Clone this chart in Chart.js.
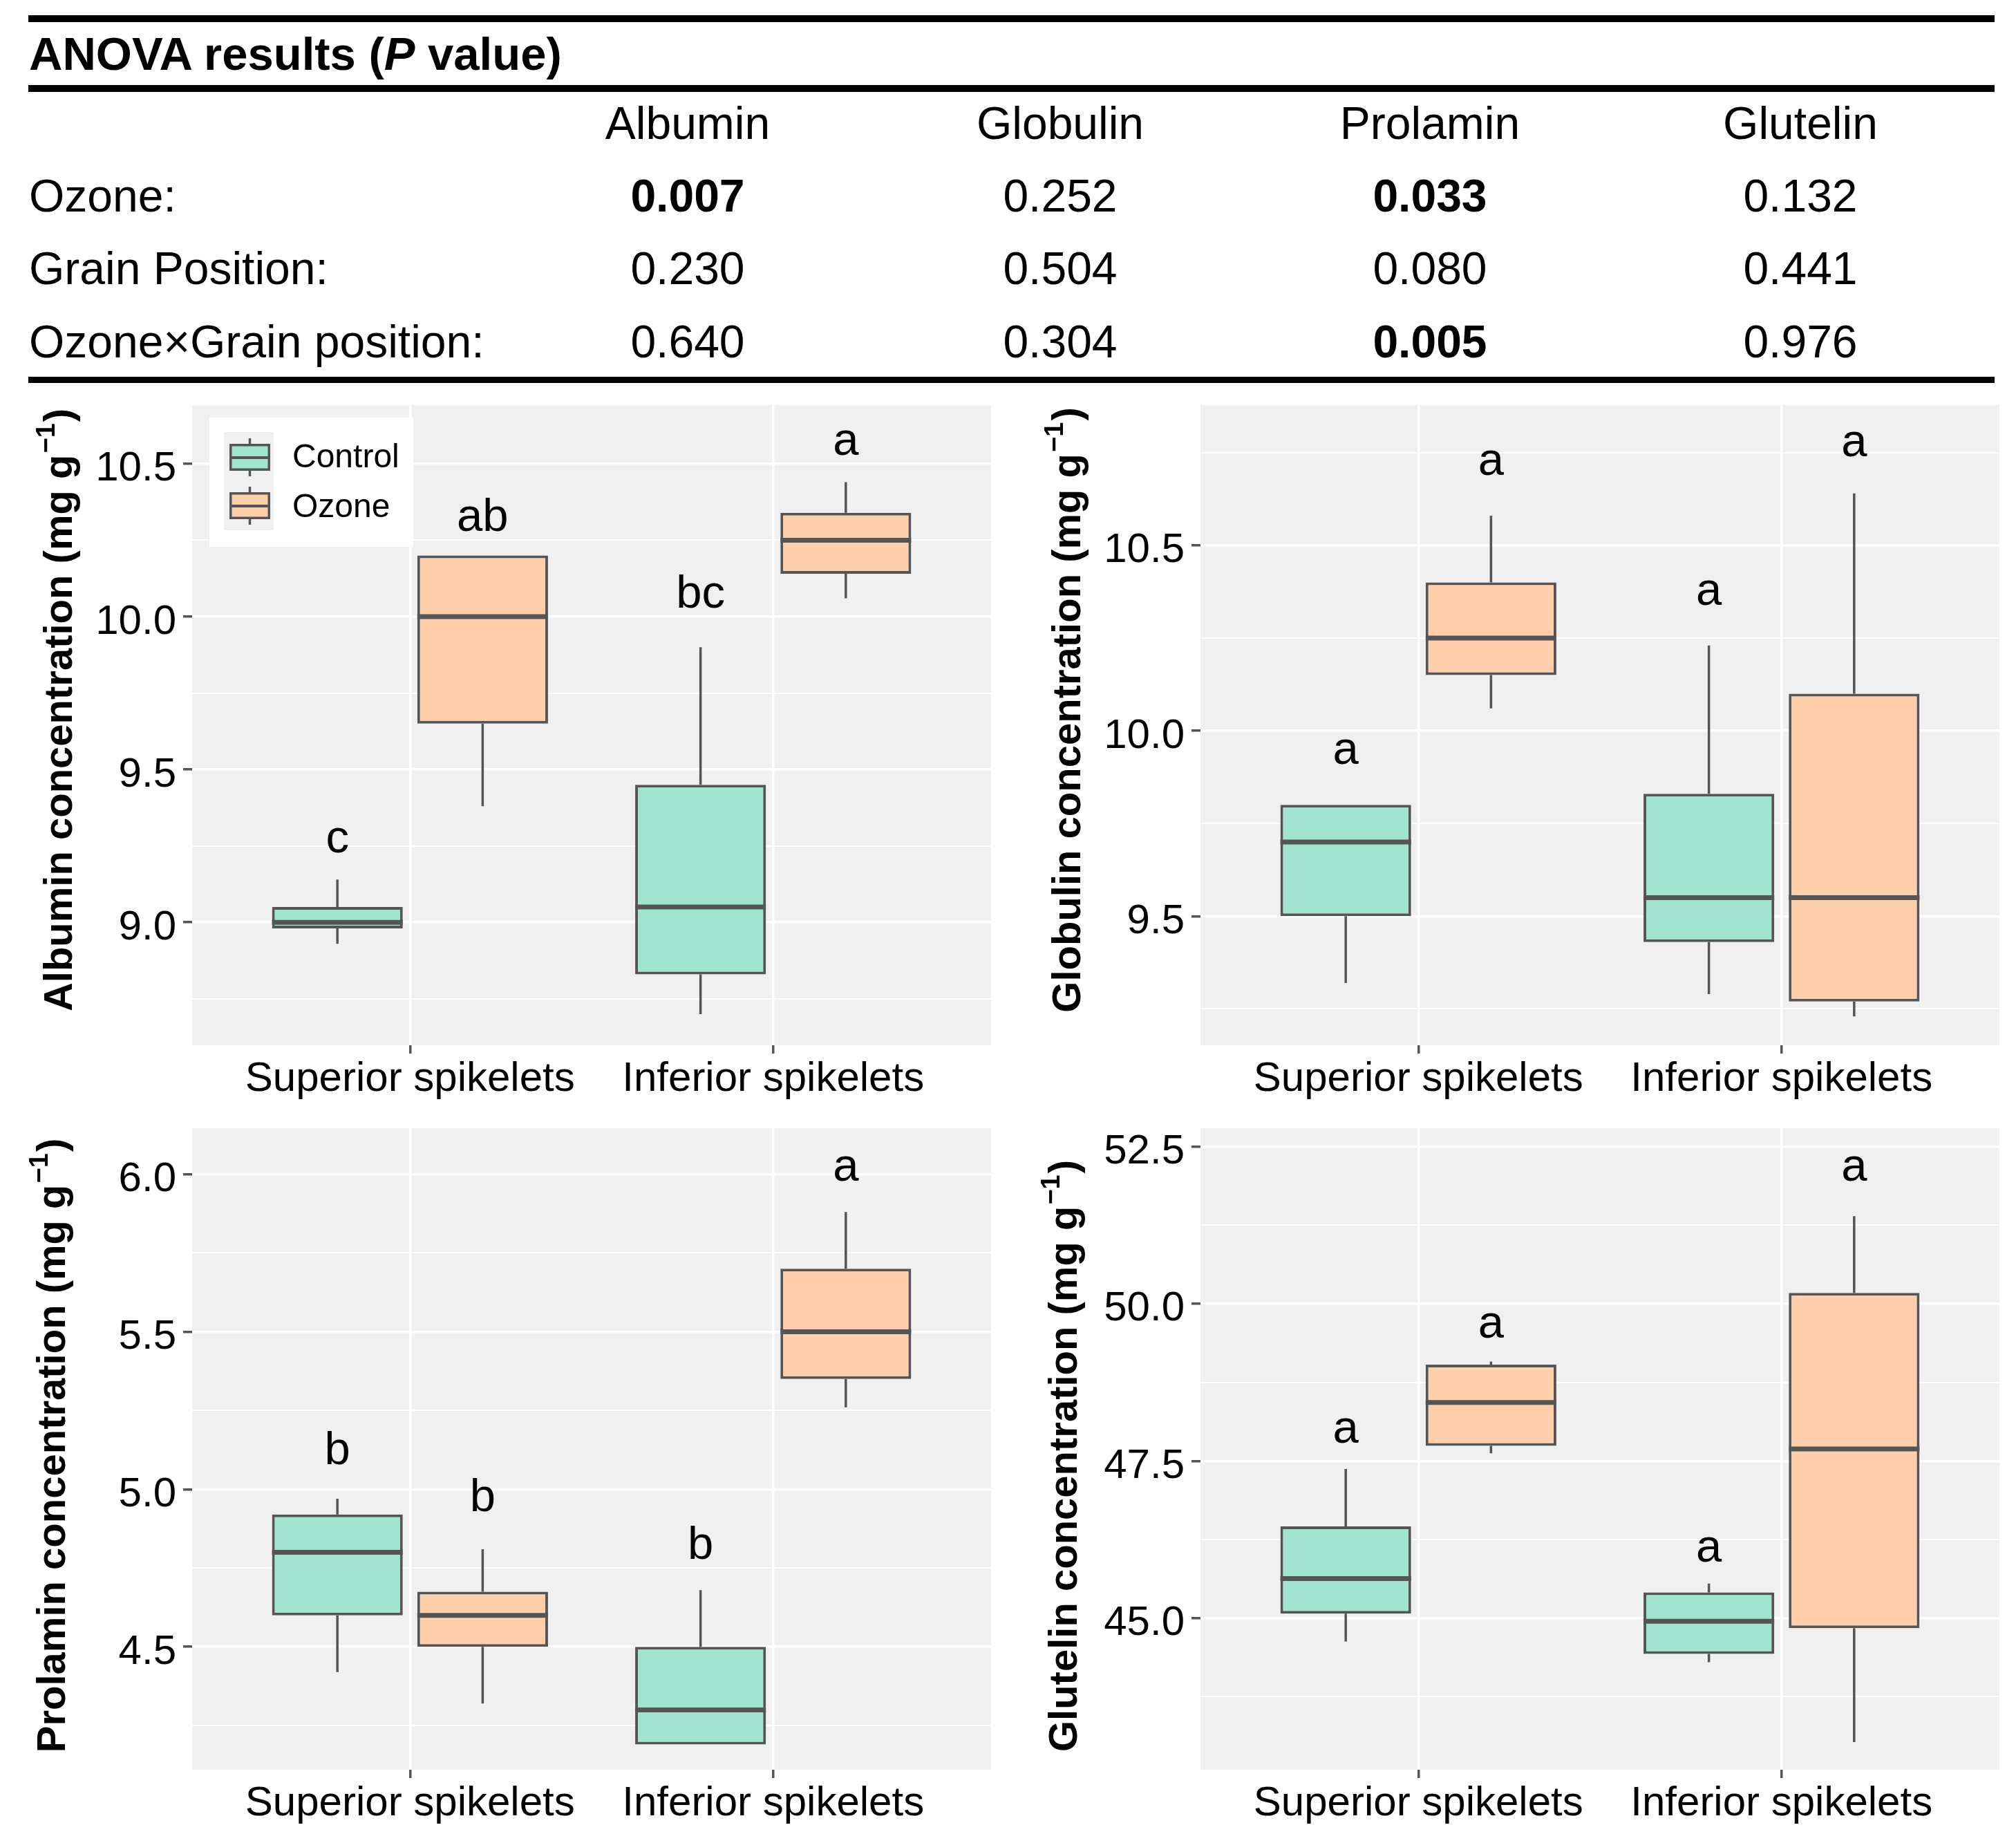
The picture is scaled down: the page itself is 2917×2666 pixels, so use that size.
<!DOCTYPE html>
<html><head><meta charset="utf-8">
<script src="https://cdn.jsdelivr.net/npm/chart.js@4.4.1/dist/chart.umd.min.js"></script>
<style>
html,body{margin:0;padding:0;background:#fff;}
body{width:2917px;height:2666px;position:relative;overflow:hidden;font-family:"Liberation Sans",Arial,sans-serif;color:#000;}
.rule{position:absolute;left:41px;width:2845px;background:#000;}
.t{position:absolute;white-space:nowrap;line-height:1;font-size:66px;}
.c{transform:translateX(-50%);}
canvas{position:absolute;}
</style></head><body>
<div id="table"></div>
<canvas id="c1" width="1460" height="1060"></canvas>
<canvas id="c2" width="1460" height="1060"></canvas>
<canvas id="c3" width="1460" height="1060"></canvas>
<canvas id="c4" width="1460" height="1060"></canvas>
<script>
// ---------------- DATA ----------------
const categories = ['Superior spikelets', 'Inferior spikelets'];
const treatments = ['Control', 'Ozone'];

const anovaTitle = 'ANOVA results';
const anovaColumns = ['Albumin', 'Globulin', 'Prolamin', 'Glutelin'];
const anovaRowLabels = ['Ozone:', 'Grain Position:', 'Ozone\u00D7Grain position:'];
const anovaOzone = ['0.007', '0.252', '0.033', '0.132'];
const anovaGrain = ['0.230', '0.504', '0.080', '0.441'];
const anovaInteraction = ['0.640', '0.304', '0.005', '0.976'];
const alpha = 0.05;

// box statistics per category: [lower whisker, Q1, median, Q3, upper whisker]
const albuminControl = [[8.93, 8.98, 9.00, 9.05, 9.14], [8.70, 8.83, 9.05, 9.45, 9.90]];
const albuminOzone   = [[9.38, 9.65, 10.00, 10.20, 10.20], [10.06, 10.14, 10.25, 10.34, 10.44]];
const albuminLetters = [['c', 'bc'], ['ab', 'a']];
const albuminLetterY = [[9.23, 10.03], [10.28, 10.53]];
const albuminTicks = [9.0, 9.5, 10.0, 10.5];
const albuminMinor = [8.75, 9.25, 9.75, 10.25];
const albuminRange = [8.598, 10.692];

const globulinControl = [[9.32, 9.50, 9.70, 9.80, 9.80], [9.29, 9.43, 9.55, 9.83, 10.23]];
const globulinOzone   = [[10.06, 10.15, 10.25, 10.40, 10.58], [9.23, 9.27, 9.55, 10.10, 10.64]];
const globulinLetters = [['a', 'a'], ['a', 'a']];
const globulinLetterY = [[9.91, 10.34], [10.69, 10.74]];
const globulinTicks = [9.5, 10.0, 10.5];
const globulinMinor = [9.25, 9.75, 10.25, 10.75];
const globulinRange = [9.152, 10.878];

const prolaminControl = [[4.42, 4.60, 4.80, 4.92, 4.97], [4.19, 4.19, 4.30, 4.50, 4.68]];
const prolaminOzone   = [[4.32, 4.50, 4.60, 4.675, 4.81], [5.26, 5.35, 5.50, 5.70, 5.88]];
const prolaminLetters = [['b', 'b'], ['b', 'a']];
const prolaminLetterY = [[5.08, 4.78], [4.93, 5.98]];
const prolaminTicks = [4.5, 5.0, 5.5, 6.0];
const prolaminMinor = [4.25, 4.75, 5.25, 5.75];
const prolaminRange = [4.110, 6.146];

const glutelinControl = [[44.63, 45.07, 45.63, 46.46, 47.37], [44.30, 44.43, 44.95, 45.41, 45.55]];
const glutelinOzone   = [[47.62, 47.74, 48.43, 49.03, 49.08], [43.03, 44.84, 47.69, 50.17, 51.39]];
const glutelinLetters = [['a', 'a'], ['a', 'a']];
const glutelinLetterY = [[47.79, 45.90], [49.46, 51.96]];
const glutelinTicks = [45.0, 47.5, 50.0, 52.5];
const glutelinMinor = [43.75, 46.25, 48.75, 51.25];
const glutelinRange = [42.59, 52.79];

// ---------------- STYLE / LAYOUT ----------------
const FONT = '"Liberation Sans", Arial, sans-serif';
const FILL = ['#A1E4D0', '#FFCFAB'];
const EDGE = '#555555';
const PANEL_BG = '#F0F0F0';
const DODGE = [-0.2, 0.2];

const panels = [
  {id: 'c1', name: 'Albumin',  control: albuminControl,  ozone: albuminOzone,  letters: albuminLetters,  letterY: albuminLetterY,  ticks: albuminTicks,  minor: albuminMinor,  range: albuminRange,  legend: true,  left: 0,    top: 560,  xAxisH: 108, titleX: 104, titleY: 467},
  {id: 'c2', name: 'Globulin', control: globulinControl, ozone: globulinOzone, letters: globulinLetters, letterY: globulinLetterY, ticks: globulinTicks, minor: globulinMinor, range: globulinRange, legend: false, left: 1459, top: 560,  xAxisH: 108, titleX: 104, titleY: 467},
  {id: 'c3', name: 'Prolamin', control: prolaminControl, ozone: prolaminOzone, letters: prolaminLetters, letterY: prolaminLetterY, ticks: prolaminTicks, minor: prolaminMinor, range: prolaminRange, legend: false, left: 0,    top: 1606, xAxisH: 106, titleX: 94,  titleY: 485},
  {id: 'c4', name: 'Glutelin', control: glutelinControl, ozone: glutelinOzone, letters: glutelinLetters, letterY: glutelinLetterY, ticks: glutelinTicks, minor: glutelinMinor, range: glutelinRange, legend: false, left: 1459, top: 1606, xAxisH: 106, titleX: 99,  titleY: 500}
];

// ---------------- TABLE ----------------
(function buildTable() {
  const t = document.getElementById('table');
  const add = (html) => { t.insertAdjacentHTML('beforeend', html); };
  add('<div class="rule" style="top:22px;height:10px"></div>');
  add('<div class="rule" style="top:123px;height:10px"></div>');
  add('<div class="rule" style="top:545px;height:9px"></div>');
  const asc = 0.8465;
  add(`<div class="t" style="left:42px;top:${101 - asc * 67}px;font-size:67px;font-weight:bold">${anovaTitle} (<i>P</i> value)</div>`);
  const colX = [995, 1534, 2069, 2605];
  anovaColumns.forEach((c, i) => add(`<div class="t c" style="left:${colX[i]}px;top:${201 - asc * 66}px">${c}</div>`));
  const rows = [anovaOzone, anovaGrain, anovaInteraction];
  const rowBase = [306, 411, 517];
  rows.forEach((r, ri) => {
    add(`<div class="t" style="left:42px;top:${rowBase[ri] - asc * 66}px">${anovaRowLabels[ri]}</div>`);
    r.forEach((v, ci) => {
      const b = parseFloat(v) < alpha ? 'font-weight:bold;' : '';
      add(`<div class="t c" style="left:${colX[ci]}px;top:${rowBase[ri] - asc * 66}px;${b}">${v}</div>`);
    });
  });
})();

// ---------------- CHARTS ----------------
Chart.defaults.font.family = FONT;

const boxPlugin = {
  id: 'boxplot',
  beforeDraw(chart) {
    const a = chart.chartArea, ctx = chart.ctx;
    ctx.save();
    ctx.fillStyle = PANEL_BG;
    ctx.fillRect(a.left, a.top, a.right - a.left, a.bottom - a.top);
    ctx.restore();
  },
  beforeDatasetsDraw(chart) {
    const ctx = chart.ctx, y = chart.scales.y;
    ctx.save();
    ctx.strokeStyle = EDGE; ctx.lineWidth = 3.5; ctx.lineCap = 'butt';
    chart.data.datasets.forEach((ds, d) => {
      chart.getDatasetMeta(d).data.forEach((el, i) => {
        const s = ds.stats[i];
        ctx.beginPath();
        ctx.moveTo(el.x, y.getPixelForValue(s[4])); ctx.lineTo(el.x, y.getPixelForValue(s[3]));
        ctx.moveTo(el.x, y.getPixelForValue(s[1])); ctx.lineTo(el.x, y.getPixelForValue(s[0]));
        ctx.stroke();
      });
    });
    ctx.restore();
  },
  afterDatasetsDraw(chart) {
    const ctx = chart.ctx, y = chart.scales.y;
    ctx.save();
    chart.data.datasets.forEach((ds, d) => {
      chart.getDatasetMeta(d).data.forEach((el, i) => {
        const s = ds.stats[i];
        const py = y.getPixelForValue(s[2]);
        ctx.strokeStyle = EDGE; ctx.lineWidth = 7;
        ctx.beginPath(); ctx.moveTo(el.x - el.width / 2, py); ctx.lineTo(el.x + el.width / 2, py); ctx.stroke();
        ctx.fillStyle = '#000'; ctx.font = `67px ${FONT}`; ctx.textAlign = 'center'; ctx.textBaseline = 'alphabetic';
        ctx.fillText(ds.letters[i], el.x, y.getPixelForValue(ds.letterY[i]));
      });
    });
    ctx.restore();
  },
  afterDraw(chart) {
    const p = chart.options.plugins.boxplot;
    const ctx = chart.ctx;
    // y-axis title with superscript
    ctx.save();
    ctx.translate(p.titleX, p.titleY);
    ctx.rotate(-Math.PI / 2);
    ctx.fillStyle = '#000';
    ctx.textBaseline = 'alphabetic'; ctx.textAlign = 'left';
    const main = `${p.name} concentration (mg g`;
    const fMain = `bold 58px ${FONT}`, fSup = `bold 38px ${FONT}`;
    ctx.font = fMain; const w1 = ctx.measureText(main).width; const w3 = ctx.measureText(')').width;
    ctx.font = fSup; const w2 = ctx.measureText('\u22121').width + 4;
    let x0 = -(w1 + w2 + w3) / 2;
    ctx.font = fMain; ctx.fillText(main, x0, 0);
    ctx.font = fSup; ctx.fillText('\u22121', x0 + w1 + 2, -25);
    ctx.font = fMain; ctx.fillText(')', x0 + w1 + w2, 0);
    ctx.restore();
    if (!p.legend) return;
    ctx.save();
    ctx.fillStyle = '#fff'; ctx.fillRect(303, 44, 295, 187);
    ctx.fillStyle = PANEL_BG; ctx.fillRect(324, 65, 72, 142);
    const keyC = [102, 172];
    chart.data.datasets.forEach((ds, d) => {
      const cy = keyC[d];
      ctx.strokeStyle = EDGE; ctx.lineWidth = 3.5;
      ctx.beginPath(); ctx.moveTo(361.5, cy - 28); ctx.lineTo(361.5, cy - 20); ctx.moveTo(361.5, cy + 19); ctx.lineTo(361.5, cy + 27); ctx.stroke();
      ctx.fillStyle = ds.backgroundColor; ctx.fillRect(332, cy - 20, 59, 39);
      ctx.strokeRect(333.75, cy - 18.25, 55.5, 35.5);
      ctx.lineWidth = 4;
      ctx.beginPath(); ctx.moveTo(332, cy); ctx.lineTo(391, cy); ctx.stroke();
      ctx.fillStyle = '#000'; ctx.font = `48px ${FONT}`; ctx.textAlign = 'left'; ctx.textBaseline = 'middle';
      ctx.fillText(ds.label, 423, cy + 1 + d * 2);
    });
    ctx.restore();
  }
};

function makeChart(p) {
  const cv = document.getElementById(p.id);
  cv.style.left = p.left + 'px';
  cv.style.top = p.top + 'px';
  const mk = (stats, gi) => ({
    label: treatments[gi],
    data: stats.map((s, i) => ({x: i + 1 + DODGE[gi], y: [s[1], s[3]]})),
    stats: stats,
    letters: p.letters[gi],
    letterY: p.letterY[gi],
    backgroundColor: FILL[gi],
    borderColor: EDGE,
    borderWidth: 4,
    borderSkipped: false,
    grouped: false,
    barPercentage: 0.9,
    categoryPercentage: 1
  });
  const isMinor = (ctx) => ctx.tick && p.minor.indexOf(ctx.tick.value) >= 0;
  new Chart(cv, {
    type: 'bar',
    data: {datasets: [mk(p.control, 0), mk(p.ozone, 1)]},
    options: {
      responsive: false, animation: false, devicePixelRatio: 1, events: [],
      layout: {padding: {left: 0, top: 26, right: 26, bottom: 0}},
      plugins: {legend: {display: false}, tooltip: {enabled: false}, title: {display: false},
        boxplot: {name: p.name, legend: p.legend, titleX: p.titleX, titleY: p.titleY}},
      scales: {
        x: {
          type: 'linear', min: 0.4, max: 2.6, offset: false,
          afterBuildTicks: (s) => { s.ticks = categories.map((c, i) => ({value: i + 1})); },
          afterFit: (s) => { s.height = p.xAxisH; s.paddingLeft = 0; s.paddingRight = 0; },
          ticks: {callback: (v) => categories[Math.round(v) - 1], color: '#000', font: {size: 60, family: FONT}, padding: 1, maxRotation: 0, autoSkip: false},
          grid: {color: '#FFFFFF', lineWidth: 3.5, tickColor: EDGE, tickWidth: 3.5, tickLength: 12, offset: false, drawTicks: true},
          border: {display: false}
        },
        y: {
          type: 'linear', min: p.range[0], max: p.range[1], beginAtZero: false,
          afterBuildTicks: (s) => { s.ticks = p.ticks.concat(p.minor).sort((a, b) => a - b).map(v => ({value: v})); },
          afterFit: (s) => { s.width = 278; s.paddingTop = 0; s.paddingBottom = 0; },
          ticks: {callback: (v) => p.minor.indexOf(v) >= 0 ? '' : v.toFixed(1), color: '#000', font: {size: 60, family: FONT}, padding: 10, labelOffset: 8, autoSkip: false},
          grid: {
            color: '#FFFFFF',
            lineWidth: (ctx) => isMinor(ctx) ? 2 : 3.5,
            tickColor: (ctx) => isMinor(ctx) ? 'rgba(0,0,0,0)' : EDGE,
            tickWidth: 3.5, tickLength: 13, drawTicks: true
          },
          border: {display: false}
        }
      }
    },
    plugins: [boxPlugin]
  });
}
panels.forEach(makeChart);
</script>
</body></html>
